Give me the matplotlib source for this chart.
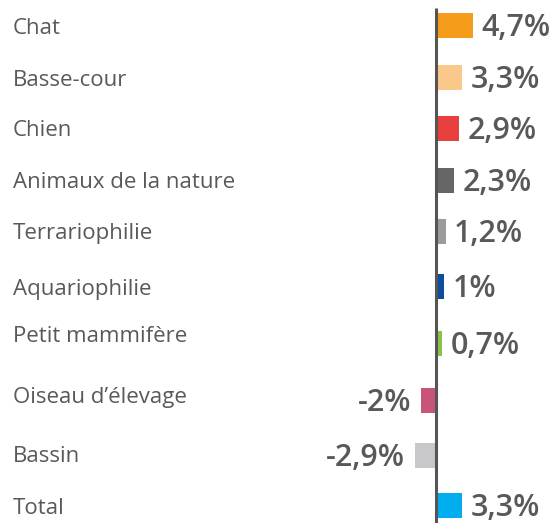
import numpy as np
import matplotlib
matplotlib.use("Agg")
import matplotlib.pyplot as plt
import matplotlib.transforms as mtrans

# data
categories = ["Chat", "Basse-cour", "Chien", "Animaux de la nature", "Terrariophilie",
              "Aquariophilie", "Petit mammifère", "Oiseau d\u2019élevage", "Bassin", "Total"]
values = [4.7, 3.3, 2.9, 2.3, 1.2, 1.0, 0.7, -2.0, -2.9, 3.3]
value_labels = ["4,7%", "3,3%", "2,9%", "2,3%", "1,2%", "1%", "0,7%", "-2%", "-2,9%", "3,3%"]
colors = ["#f59c1a", "#fbc88c", "#e8403f", "#666666", "#9b9b9b",
          "#0f4c9a", "#8cc04a", "#c85577", "#c8c8ca", "#00aeef"]

# layout (pixel rows, figure is 560x523)
bar_y = [25, 77, 128, 180, 231, 286, 343, 400, 455, 505]
label_y = [27, 78, 129, 181, 232, 287, 335, 396, 455, 506]
zero_px = 436
px_per_unit = 7.65
W, H = 560, 523

plt.rcParams['font.family'] = ['Open Sans', 'DejaVu Sans']
txt_color = "#58595b"

fig = plt.figure(figsize=(W / 100, H / 100), dpi=100)
ax = fig.add_axes([0, 0, 1, 1])
ax.set_xlim(-zero_px / px_per_unit, (W - zero_px) / px_per_unit)
ax.set_ylim(H, 0)
ax.axis("off")

ax.barh(bar_y, values, height=25, color=colors, left=0.1)
ax.plot([0, 0], [8, H], color="#555555", lw=2.2, solid_capstyle="butt")

trans = mtrans.blended_transform_factory(ax.transAxes, ax.transData)
for cat, y in zip(categories, label_y):
    ax.text(13 / W, y + 2, cat, transform=trans, ha="left", va="center",
            fontsize=16, color=txt_color)

off = 9 / px_per_unit
for v, lab, y in zip(values, value_labels, bar_y):
    if v >= 0:
        ax.text(v + off, y + 3, lab, ha="left", va="center", fontsize=22,
                fontweight="semibold", color=txt_color)
    else:
        ax.text(v - off, y + 3, lab, ha="right", va="center", fontsize=22,
                fontweight="semibold", color=txt_color)

fig.savefig("out.png", dpi=100)
